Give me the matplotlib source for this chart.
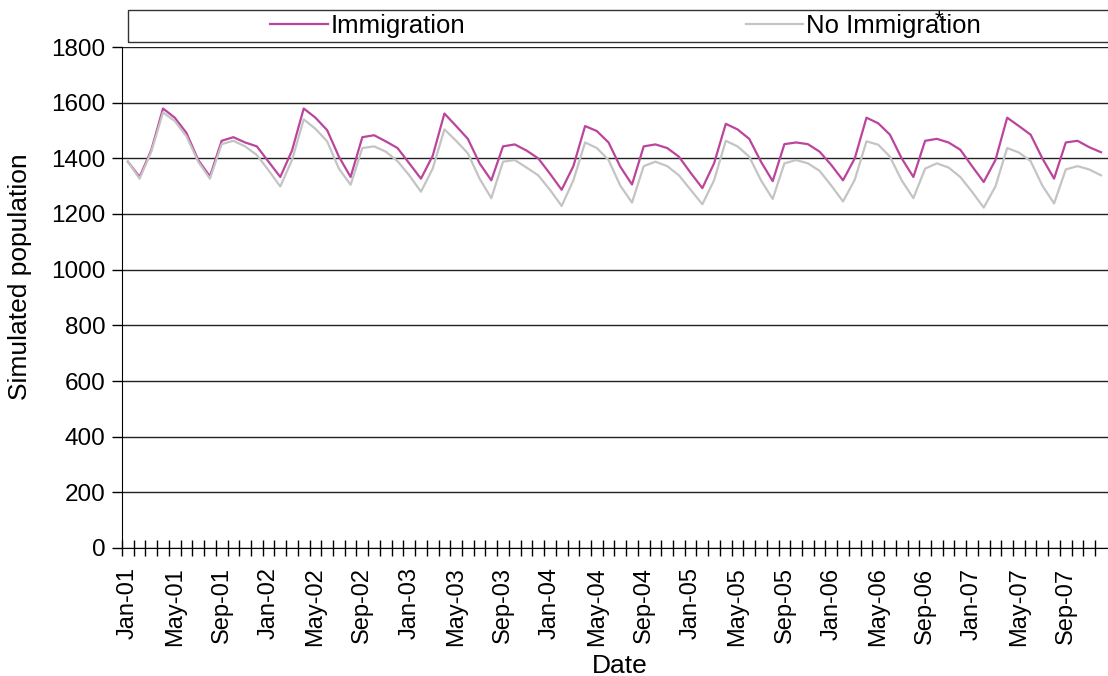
import matplotlib
matplotlib.use("Agg")
import matplotlib.pyplot as plt
from matplotlib.patches import Rectangle

plt.rcParams['font.family'] = ['Liberation Sans', 'DejaVu Sans']

# monthly values, Jan-01 .. Dec-07
immigration = [
    1388, 1333, 1430, 1579, 1546, 1491, 1394, 1335, 1463, 1476, 1457, 1443,
    1388, 1333, 1428, 1579, 1546, 1501, 1406, 1333, 1476, 1483, 1461, 1437,
    1382, 1327, 1409, 1561, 1516, 1470, 1382, 1321, 1443, 1450, 1428, 1400,
    1345, 1287, 1372, 1516, 1498, 1457, 1370, 1306, 1443, 1450, 1437, 1406,
    1348, 1293, 1382, 1524, 1504, 1470, 1388, 1318, 1451, 1457, 1451, 1424,
    1376, 1321, 1400, 1546, 1526, 1485, 1400, 1333, 1463, 1470, 1457, 1431,
    1372, 1315, 1394, 1546, 1516, 1485, 1400, 1327, 1457, 1463, 1440, 1422,
]
no_immigration = [
    1388, 1327, 1424, 1565, 1534, 1479, 1388, 1327, 1451, 1463, 1443, 1412,
    1357, 1299, 1394, 1540, 1506, 1461, 1363, 1305, 1437, 1443, 1424, 1390,
    1339, 1280, 1363, 1504, 1463, 1418, 1327, 1257, 1388, 1394, 1367, 1339,
    1287, 1229, 1321, 1457, 1437, 1394, 1302, 1241, 1372, 1388, 1372, 1339,
    1287, 1235, 1321, 1463, 1443, 1406, 1321, 1254, 1382, 1394, 1382, 1355,
    1302, 1245, 1323, 1461, 1449, 1406, 1321, 1257, 1363, 1382, 1367, 1333,
    1280, 1223, 1299, 1437, 1421, 1390, 1302, 1238, 1360, 1372, 1360, 1339,
]
months = ["Jan", "Feb", "Mar", "Apr", "May", "Jun",
          "Jul", "Aug", "Sep", "Oct", "Nov", "Dec"]
years = ["01", "02", "03", "04", "05", "06", "07"]
dates = [m + "-" + y for y in years for m in months]

W, H = 1108, 676
fig = plt.figure(figsize=(W / 100, H / 100), dpi=100)
ax = fig.add_axes([122 / W, 1 - 548 / H, (W - 122) / W, (548 - 47) / H])

x = list(range(len(dates)))
l1, = ax.plot(x, immigration, color="#bb449c", lw=1.6, label="Immigration")
l2, = ax.plot(x, no_immigration, color="#c4c4c4", lw=1.6, label="No Immigration")

ax.set_ylim(0, 1800)
ax.set_yticks(range(0, 1801, 200))
ax.set_xlim(-0.5, len(dates) - 0.4)
ax.yaxis.grid(True, color="#222222", lw=1)
ax.set_axisbelow(True)

ax.set_xticks(x[::4])
ax.set_xticklabels(dates[::4], rotation=90)
ax.set_xticks([i - 0.5 for i in x], minor=True)
ax.tick_params(axis="x", which="major", length=0, labelsize=17, pad=14)
ax.tick_params(axis="x", which="minor", length=12, direction="inout", width=1)
ax.tick_params(axis="y", length=7, direction="out", labelsize=17.5, width=1, pad=5)

for s in ["top", "right"]:
    ax.spines[s].set_visible(False)
ax.spines["left"].set_color("black")
ax.spines["bottom"].set_color("black")

fig.text(20 / W, 1 - 277 / H, "Simulated population", fontsize=19,
         rotation=90, ha="center", va="center")
fig.text(620 / W, 1 - 666 / H, "Date", fontsize=19, ha="center", va="center")

# legend box along the top
fig.patches.append(Rectangle((128 / W, 1 - 42 / H), (W - 128) / W + 0.01, 32 / H,
                             transform=fig.transFigure, fill=False,
                             edgecolor="#333333", lw=1))
fig.legend(handles=[l1, l2], loc="center left", ncol=2, frameon=False,
           bbox_to_anchor=(270 / W, 1 - 26 / H), fontsize=18.5,
           borderpad=0, borderaxespad=0,
           handlelength=2.25, handletextpad=0.12, columnspacing=10.9)
fig.text(939 / W, 1 - 20 / H, "*", fontsize=16, ha="center", va="center")

fig.savefig("out.png", dpi=100)
